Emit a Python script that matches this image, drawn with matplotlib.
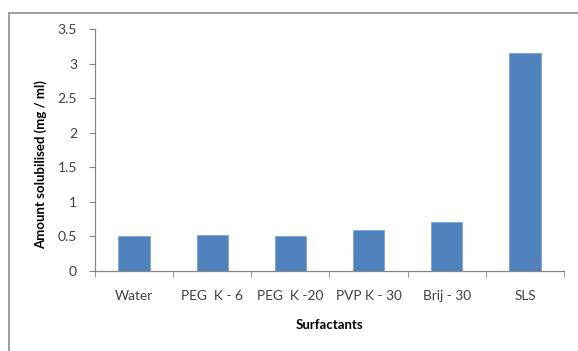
import matplotlib.pyplot as plt
import numpy as np
from matplotlib.patches import Rectangle

# Datos
categorias = ["Water", "PEG  K - 6", "PEG  K -20", "PVP K - 30", "Brij - 30", "SLS"]
valores = [0.50, 0.525, 0.50, 0.60, 0.715, 3.16]
yticks = [0, 0.5, 1, 1.5, 2, 2.5, 3, 3.5]
ytick_labels = ["0", "0.5", "1", "1.5", "2", "2.5", "3", "3.5"]

plt.rcParams['font.family'] = ['Lato', 'DejaVu Sans']

fig = plt.figure(figsize=(5.78, 3.51), dpi=100)
ax = fig.add_axes([95 / 578, 80 / 351, 469 / 578, 242 / 351])

# Marco exterior (recortado a la derecha y abajo)
fig.patches.append(Rectangle((8.5 / 578, -0.1), 1.2, (351 - 12.5) / 351 + 0.1,
                             transform=fig.transFigure, fill=False,
                             edgecolor='#8c8c8c', linewidth=1.2))

x = np.arange(len(categorias))
ax.bar(x, valores, width=0.4, color='#4f81bd', edgecolor='#7fa3cf', linewidth=0.6, zorder=3)

ax.set_xlim(-0.5, len(categorias) - 0.5)
ax.set_ylim(0, 3.5)
ax.set_yticks(yticks)
ax.set_yticklabels(ytick_labels)
ax.set_xticks(x)
ax.set_xticklabels(categorias)
ax.set_xticks(np.arange(-0.5, len(categorias)), minor=True)

for lado in ['top', 'right']:
    ax.spines[lado].set_visible(False)
for lado in ['left', 'bottom']:
    ax.spines[lado].set_color('#868686')
    ax.spines[lado].set_linewidth(0.9)

ax.tick_params(axis='x', which='major', length=0, pad=14, labelsize=9.8, colors='#404040')
ax.tick_params(axis='x', which='minor', length=4, color='#868686', direction='out')
ax.tick_params(axis='y', length=4, color='#868686', pad=9, labelsize=10, labelcolor='#404040')

ax.set_xlabel("Surfactants", fontsize=9.5, fontweight='bold', labelpad=12)
ax.set_ylabel("Amount solubilised (mg / ml)", fontsize=9.5, fontweight='bold')
# En el original la etiqueta queda un poco por debajo del centro
ax.yaxis.set_label_coords(-0.102, 0.44)

fig.savefig("out.png", dpi=100)
